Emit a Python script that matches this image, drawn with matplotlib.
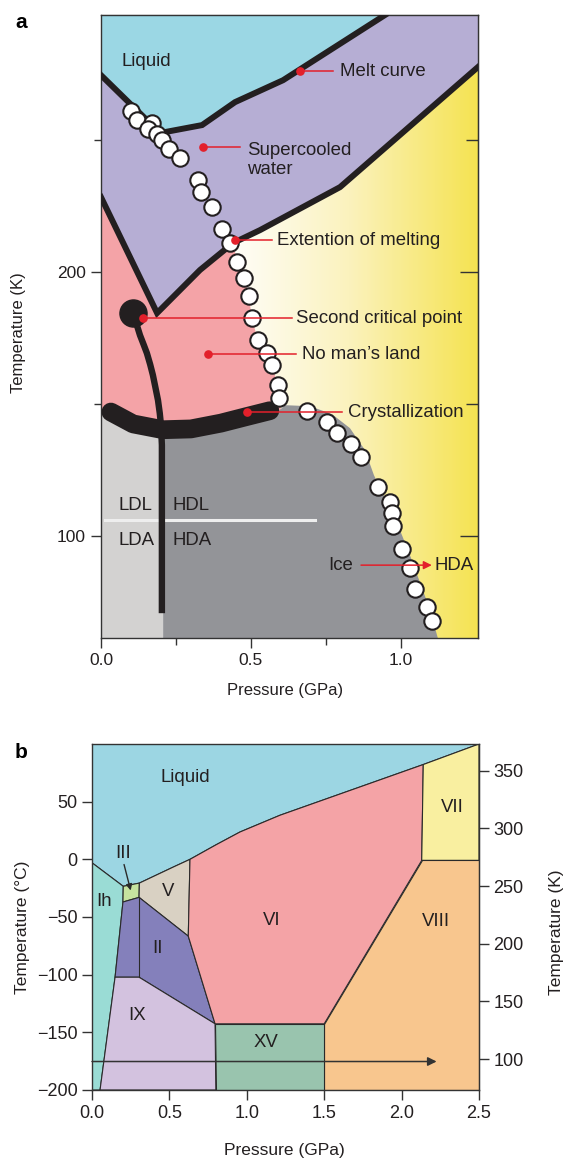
"""Two-panel water phase diagram: (a) supercooled / glassy water with the
liquid-liquid transition, (b) the stable crystalline ice phases.

Writes out.png (563 x 1161 px).
"""
import numpy as np
import matplotlib
matplotlib.use("Agg")
import matplotlib.pyplot as plt
from matplotlib.colors import LinearSegmentedColormap
from matplotlib.patches import Polygon
from matplotlib.ticker import NullFormatter, FormatStrFormatter

plt.rcParams['font.family'] = ['Liberation Sans', 'DejaVu Sans']

W, H = 563, 1161
INK = '#231f20'
RED = '#e3202b'

# ---------------- panel a : metastable water (P in GPa, T in K)
A_XLIM = (0.0, 1.257)
A_YLIM = (61.4, 297.4)

MELT_P = [0.0, 0.197, 0.337, 0.447, 0.607, 0.947]
MELT_T = [274.6, 252.7, 255.7, 264.4, 272.7, 297.4]

EXT_P = [0.0, 0.187, 0.33, 0.44, 0.53, 0.797, 1.257]
EXT_T = [228.4, 184.5, 200.8, 211.0, 215.9, 232.2, 277.7]

CRYST_P = [0.033, 0.107, 0.207, 0.30, 0.40, 0.486, 0.563]
CRYST_T = [147.0, 142.5, 140.3, 140.6, 142.8, 145.3, 147.5]

WIDOM_P = [0.106, 0.118, 0.130, 0.142, 0.153, 0.164, 0.173, 0.182, 0.190, 0.196,
           0.200, 0.203, 0.203]
WIDOM_T = [184.4, 180.5, 176.1, 172.6, 169.3, 165.0, 161.0, 156.0, 151.5, 146.5,
           142.0, 134.5, 70.8]
CRIT_P, CRIT_T = 0.106, 184.4

# crystallisation temperatures measured under pressure
OBS_P = [0.099, 0.119, 0.169, 0.158, 0.186, 0.202, 0.227, 0.263, 0.324, 0.333,
         0.369, 0.402, 0.430, 0.454, 0.478, 0.494, 0.502, 0.524, 0.552, 0.569,
         0.590, 0.593, 0.688, 0.752, 0.786, 0.832, 0.866, 0.924, 0.963, 0.969,
         0.974, 1.002, 1.030, 1.047, 1.088, 1.104]
OBS_T = [261.1, 257.8, 256.3, 254.4, 252.5, 250.0, 246.5, 243.1, 234.8, 230.4,
         224.7, 216.2, 211.1, 203.9, 197.8, 191.0, 182.5, 174.2, 169.2, 164.8,
         157.2, 152.3, 147.5, 143.3, 138.9, 134.8, 130.0, 118.7, 113.0, 108.6,
         103.8, 95.0, 87.8, 79.8, 73.2, 67.9]

# edge of the amorphous-ice dome
DOME_P = [0.613, 0.697, 0.77, 0.83, 0.88, 0.91, 0.95, 0.99, 1.03, 1.067, 1.097, 1.123]
DOME_T = [149.6, 149.2, 146.2, 140.9, 132.6, 123.1, 113.6, 104.2, 92.8, 81.4, 72.0, 61.4]
LOW_HIGH_SPLIT = 0.207
GLASS_T, GLASS_P = 106.0, (0.013, 0.713)

NOTE_TEXT = ['Melt curve', 'Supercooled\nwater', 'Extention of melting',
             'Second critical point', 'No man\u2019s land', 'Crystallization']
NOTE_DOT_P = [0.663, 0.340, 0.447, 0.140, 0.357, 0.487]
NOTE_DOT_T = [276.1, 247.3, 212.1, 182.6, 168.9, 147.0]
NOTE_END_P = [0.773, 0.463, 0.570, 0.637, 0.650, 0.803]
NOTE_TXT_P = [0.797, 0.487, 0.587, 0.650, 0.670, 0.823]
NOTE_TXT_T = [276.1, 242.4, 212.1, 182.6, 168.9, 147.0]

# ---------------- panel b : ice polymorphs (P in GPa, T in degC)
B_XLIM = (0.0, 2.5)
B_YLIM = (-200, 100)

PHASES = {
    'Liquid': ([0.0, 0.0, 0.202, 0.306, 0.525, 0.633, 0.80, 0.956, 1.214, 2.14, 2.5],
               [100, -3.0, -23.4, -20.6, -6.7, 0.0, 12.5, 23.7, 38.2, 82.2, 100]),
    'Ih':   ([0.0, 0.202, 0.200, 0.149, 0.052, 0.0], [-3.0, -23.4, -37.0, -102.2, -200, -200]),
    'III':  ([0.202, 0.306, 0.304, 0.200], [-23.4, -20.6, -33.0, -37.0]),
    'V':    ([0.306, 0.525, 0.633, 0.622, 0.304], [-20.6, -6.7, 0.0, -66.6, -33.0]),
    'II':   ([0.200, 0.304, 0.622, 0.795, 0.304, 0.149], [-37.0, -33.0, -66.6, -142.6, -102.2, -102.2]),
    'IX':   ([0.149, 0.304, 0.795, 0.800, 0.052], [-102.2, -102.2, -142.6, -200, -200]),
    'VI':   ([0.633, 0.80, 0.956, 1.214, 2.14, 2.13, 1.5, 0.795, 0.622],
             [0.0, 12.5, 23.7, 38.2, 82.2, -0.9, -142.6, -142.6, -66.6]),
    'VII':  ([2.14, 2.5, 2.5, 2.13], [82.2, 100, -0.9, -0.9]),
    'VIII': ([2.13, 2.5, 2.5, 1.5, 1.5], [-0.9, -0.9, -200, -200, -142.6]),
    'XV':   ([0.795, 1.5, 1.5, 0.800], [-142.6, -142.6, -200, -200]),
}
PHASE_COLOR = {'Liquid': '#9cd6e3', 'Ih': '#9adcd5', 'III': '#c6e39f', 'V': '#d9d1c3',
               'II': '#8480bb', 'IX': '#d3c2df', 'VI': '#f4a3a6', 'VII': '#f9efa0',
               'VIII': '#f8c68e', 'XV': '#99c4ae'}
PHASE_LABEL_P = {'Liquid': 0.60, 'Ih': 0.078, 'V': 0.49, 'II': 0.426, 'IX': 0.29,
                 'VI': 1.16, 'VII': 2.33, 'VIII': 2.22, 'XV': 1.124}
PHASE_LABEL_T = {'Liquid': 71.0, 'Ih': -36.5, 'V': -27.8, 'II': -77.0, 'IX': -135.0,
                 'VI': -53.0, 'VII': 45.0, 'VIII': -54.0, 'XV': -159.0}
III_LABEL = (0.20, 5.2)
III_ARROW = ((0.207, -4.5), (0.25, -27.0))
QUENCH_T, QUENCH_P_END = -175.3, 2.226


def px(x, y):
    return x / W, 1 - y / H


fig = plt.figure(figsize=(W / 100, H / 100), dpi=100)

# ================================================================ panel a
ax = fig.add_axes([101 / W, 1 - 638 / H, 377 / W, 623 / H])
xs = np.linspace(*A_XLIM, 400)
ramp = np.clip((xs - 0.40) / (A_XLIM[1] - 0.40), 0, 1)
cmap = LinearSegmentedColormap.from_list('warm', ['#ffffff', '#fbf2bd', '#f5e352'])
ax.imshow(ramp[None, :], extent=[*A_XLIM, *A_YLIM], aspect='auto', origin='lower',
          cmap=cmap, vmin=0, vmax=1, zorder=0)

# no man's land: under the melting extension, left of the crystallisation points
pink = ([(p, t) for p, t in zip(EXT_P[:4], EXT_T[:4])]
        + [(p, t) for p, t in zip(OBS_P[13:22], OBS_T[13:22])]
        + [(0.60, 148.0), (0.60, 136.0), (0.0, 136.0)])
ax.add_patch(Polygon(pink, closed=True, fc='#f4a3a7', ec='none', zorder=1))

lav = (list(zip(MELT_P, MELT_T)) + [(A_XLIM[1], A_YLIM[1]), (A_XLIM[1], EXT_T[-1])]
       + list(zip(EXT_P[::-1], EXT_T[::-1])))
ax.add_patch(Polygon(lav, closed=True, fc='#b6aed4', ec='none', zorder=1))

liq = [(0.0, A_YLIM[1])] + list(zip(MELT_P, MELT_T))
ax.add_patch(Polygon(liq, closed=True, fc='#9bd7e4', ec='none', zorder=1))

dark = ([(LOW_HIGH_SPLIT, A_YLIM[0]), (LOW_HIGH_SPLIT, 141.0), (0.58, 146.0)]
        + list(zip(DOME_P, DOME_T)))
ax.add_patch(Polygon(dark, closed=True, fc='#939498', ec='none', zorder=1))
light = [(0.0, A_YLIM[0]), (0.0, 148.0), (LOW_HIGH_SPLIT, 141.0), (LOW_HIGH_SPLIT, A_YLIM[0])]
ax.add_patch(Polygon(light, closed=True, fc='#d3d2d1', ec='none', zorder=1))

ax.plot(GLASS_P, [GLASS_T, GLASS_T], color='#eeeeee', lw=2.2, zorder=2)
ax.plot(WIDOM_P, WIDOM_T, color=INK, lw=4.6, solid_capstyle='butt',
        solid_joinstyle='round', zorder=3)
ax.plot(CRIT_P, CRIT_T, 'o', ms=19.5, color=INK, zorder=3)
ax.plot(MELT_P, MELT_T, color=INK, lw=4.3, solid_joinstyle='miter', zorder=3)
ax.plot(EXT_P, EXT_T, color=INK, lw=4.3, solid_joinstyle='miter', zorder=3)
ax.plot(CRYST_P, CRYST_T, color=INK, lw=13.5, solid_capstyle='round',
        solid_joinstyle='round', zorder=3)
ax.plot(OBS_P, OBS_T, 'o', ms=11.8, mfc='white', mec=INK, mew=1.5, ls='none', zorder=4)

for txt, dp, dt, ep, tp, tt in zip(NOTE_TEXT, NOTE_DOT_P, NOTE_DOT_T, NOTE_END_P,
                                   NOTE_TXT_P, NOTE_TXT_T):
    ax.plot([dp, ep], [dt, dt], color=RED, lw=1.1, zorder=6)
    ax.plot(dp, dt, 'o', ms=5.2, color=RED, zorder=6)
    ax.text(tp, tt, txt, ha='left', va='center', fontsize=13.4, color=INK,
            linespacing=1.15, zorder=6)

ax.text(0.069, 279.7, 'Liquid', ha='left', va='center', fontsize=13.4, color=INK, zorder=6)
for txt, p, t in [('LDL', 0.060, 111.7), ('HDL', 0.237, 111.7),
                  ('LDA', 0.057, 98.5), ('HDA', 0.240, 98.5)]:
    ax.text(p, t, txt, ha='left', va='center', fontsize=13.4, color=INK, zorder=6)
ax.text(0.757, 89.0, 'Ice', ha='left', va='center', fontsize=13.4, color=INK, zorder=6)
ax.annotate('', xy=(1.103, 89.0), xytext=(0.867, 89.0),
            arrowprops=dict(arrowstyle='-|>', color=RED, lw=1.1, mutation_scale=12,
                            shrinkA=0, shrinkB=0), zorder=6)
ax.text(1.113, 89.0, 'HDA', ha='left', va='center', fontsize=13.4, color=INK, zorder=6)

ax.set_xlim(*A_XLIM)
ax.set_ylim(*A_YLIM)
ax.set_xticks([0.0, 0.5, 1.0])
ax.set_xticks([0.25, 0.75], minor=True)
ax.xaxis.set_major_formatter(FormatStrFormatter('%.1f'))
ax.set_yticks([100, 200])
ax.set_yticks([150, 250], minor=True)
ax.tick_params(which='both', direction='out', width=1.0, color='#333333',
               labelsize=12.5, labelcolor=INK, pad=4)
ax.tick_params(which='major', length=7)
ax.tick_params(which='minor', length=5)
for s in ax.spines.values():
    s.set_color('#333333')
    s.set_linewidth(1.0)

top = ax.secondary_xaxis('top')
top.set_xticks([0.5, 1.0])
top.set_xticks([0.25, 0.75], minor=True)
top.xaxis.set_major_formatter(NullFormatter())
top.tick_params(which='both', direction='in', width=1.0, color='#333333')
top.tick_params(which='major', length=12)
top.tick_params(which='minor', length=7)
right = ax.secondary_yaxis('right')
right.set_yticks([100, 200])
right.set_yticks([150, 250], minor=True)
right.yaxis.set_major_formatter(NullFormatter())
right.tick_params(which='both', direction='in', width=1.0, color='#333333')
right.tick_params(which='major', length=13)
right.tick_params(which='minor', length=8.5)

fig.text(*px(285, 690), 'Pressure (GPa)', ha='center', va='center', fontsize=12, color=INK)
fig.text(*px(19, 333), 'Temperature (K)', ha='center', va='center', rotation=90,
         fontsize=12, color=INK)
fig.text(*px(21, 23), 'a', ha='center', va='center', fontsize=15, fontweight='bold', color='black')

# ================================================================ panel b
bx = fig.add_axes([92 / W, 1 - 1090 / H, 387 / W, 346 / H])
for name, (pp, tt) in PHASES.items():
    bx.add_patch(Polygon(list(zip(pp, tt)), closed=True, fc=PHASE_COLOR[name],
                         ec='#2a2a2a', lw=0.8, joinstyle='miter', zorder=1))
    if name in PHASE_LABEL_P:
        bx.text(PHASE_LABEL_P[name], PHASE_LABEL_T[name], name, ha='center', va='center',
                fontsize=13.4, color=INK, zorder=4)
# II / IX boundary inside the phase II field
bx.plot([0.304, 0.304], [-33.0, -102.2], color='#2a2a2a', lw=0.8, zorder=2)

bx.text(*III_LABEL, 'III', ha='center', va='center', fontsize=13.4, color=INK, zorder=4)
bx.annotate('', xy=III_ARROW[1], xytext=III_ARROW[0],
            arrowprops=dict(arrowstyle='-|>', color='#2a2a2a', lw=1.0, mutation_scale=9,
                            shrinkA=0, shrinkB=0), zorder=4)
bx.annotate('', xy=(QUENCH_P_END, QUENCH_T), xytext=(0.0, QUENCH_T),
            arrowprops=dict(arrowstyle='-|>', color='#333333', lw=1.1, mutation_scale=13,
                            shrinkA=0, shrinkB=0), zorder=4)

bx.set_xlim(*B_XLIM)
bx.set_ylim(*B_YLIM)
bx.set_xticks(np.arange(0, 2.51, 0.5))
bx.xaxis.set_major_formatter(FormatStrFormatter('%.1f'))
bx.set_yticks(np.arange(-200, 51, 50))
bx.tick_params(direction='out', length=7.5, width=1.0, color='#333333',
               labelsize=13, labelcolor=INK, pad=3)
for s in bx.spines.values():
    s.set_color('#333333')
    s.set_linewidth(1.0)

kel = bx.secondary_yaxis('right', functions=(lambda c: c + 273.15, lambda k: k - 273.15))
kel.set_yticks(np.arange(100, 351, 50))
kel.tick_params(direction='out', length=7.5, width=1.0, color='#333333',
                labelsize=13, labelcolor=INK, pad=3)

fig.text(*px(284, 1151), 'Pressure (GPa)', ha='center', va='center', fontsize=12.5, color=INK)
fig.text(*px(23, 927), 'Temperature (\u00b0C)', ha='center', va='center', rotation=90,
         fontsize=12.5, color=INK)
fig.text(*px(556, 932), 'Temperature (K)', ha='center', va='center', rotation=90,
         fontsize=12.5, color=INK)
fig.text(*px(21, 752), 'b', ha='center', va='center', fontsize=15, fontweight='bold', color='black')

fig.savefig('out.png', dpi=100)
